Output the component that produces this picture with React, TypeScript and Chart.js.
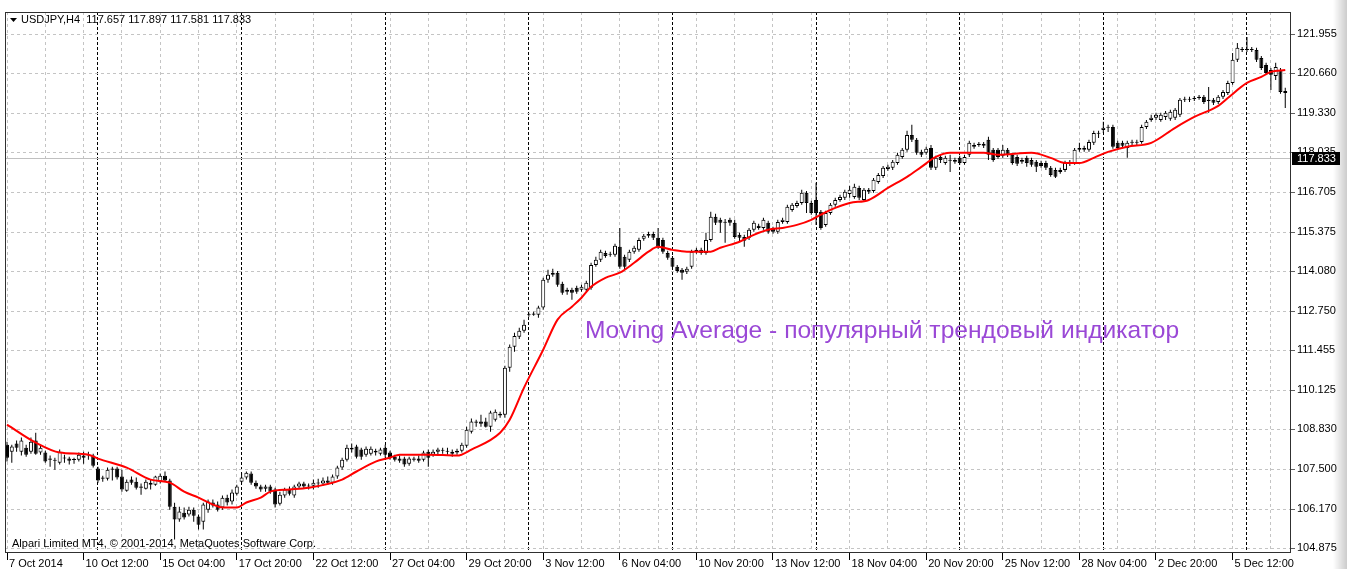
import React, { useEffect, useRef } from 'react';
import { Chart, registerables } from 'chart.js';

Chart.register(...registerables);

// ---- header / current quote ----
const symbolTitle = 'USDJPY,H4';
const headerOHLC = ['117.657', '117.897', '117.581', '117.833'];
const currentPrice = 117.833;
const overlayText = 'Moving Average - популярный трендовый индикатор';
const copyrightText = 'Alpari Limited MT4, © 2001-2014, MetaQuotes Software Corp.';

// ---- H4 candles (bar index 0 = 7 Oct 2014 20:00) ----
const opens = [
  108.31,108.08,108.35,108.08,108.21,108.08,108.45,108.05,108.05,107.85,
  107.81,107.71,107.85,107.85,107.81,107.81,107.95,107.98,107.95,107.52,
  107.22,107.18,107.48,107.52,107.25,106.78,107.15,107.08,106.92,106.85,
  107.05,106.98,107.08,107.28,107.12,106.25,105.82,106.05,105.99,106.15,
  105.92,105.75,106.15,106.39,106.32,106.22,106.55,106.42,106.68,107.08,
  107.22,107.35,107.05,106.92,106.85,106.92,106.82,106.35,106.62,106.82,
  106.62,106.92,107.02,106.92,106.95,107.05,107.02,107.12,107.05,107.25,
  107.55,107.81,108.21,108.25,108.15,107.98,108.01,108.11,108.01,108.21,
  108.05,107.91,107.85,107.85,107.68,107.85,107.85,107.81,108.08,107.98,
  108.08,108.11,108.11,108.08,108.05,108.11,108.28,108.74,109.08,109.08,
  109.08,108.91,109.14,109.34,109.31,110.87,111.57,111.90,112.10,112.63,
  112.63,112.63,112.87,113.80,113.96,114.03,113.66,113.40,113.46,113.53,
  113.46,113.46,113.53,114.29,114.46,114.69,114.66,114.63,114.89,114.56,
  114.46,114.73,114.79,115.16,115.26,115.32,115.19,115.12,114.69,114.53,
  114.23,114.13,114.06,114.23,114.73,114.79,114.69,115.12,115.89,115.79,
  115.72,115.79,115.69,115.29,115.22,115.19,115.46,115.59,115.52,115.69,
  115.49,115.39,115.72,115.72,116.12,116.25,116.35,116.69,116.35,116.45,
  116.06,115.62,116.02,116.29,116.45,116.52,116.65,116.55,116.85,116.45,
  116.79,116.75,117.05,117.25,117.48,117.52,117.68,117.88,118.12,118.61,
  118.45,118.05,118.02,118.18,117.52,117.88,117.68,117.78,117.78,117.85,
  117.68,117.95,118.28,118.32,118.32,118.45,118.12,118.12,117.92,118.12,
  117.95,117.88,117.78,117.85,117.78,117.72,117.68,117.68,117.52,117.45,
  117.45,117.45,117.65,117.68,118.12,118.18,118.12,118.35,118.65,118.78,
  118.85,118.88,118.35,118.35,118.18,118.35,118.35,118.38,118.88,119.11,
  119.18,119.11,119.21,119.15,119.18,119.28,119.78,119.78,119.81,119.84,
  119.88,119.78,119.78,119.71,119.88,120.01,120.34,121.11,121.44,121.47,
  121.44,121.44,121.17,120.94,120.77,120.57,120.77,120.07,
];
const closes = [
  107.88,108.25,108.21,108.45,107.98,108.41,108.01,108.21,107.75,107.81,
  107.78,108.08,107.88,107.78,107.80,107.98,107.88,107.95,107.61,107.12,
  107.18,107.48,107.52,107.22,106.82,107.08,107.05,106.88,106.88,107.08,
  106.98,107.25,107.28,107.12,106.25,105.82,106.09,105.89,106.15,105.95,
  105.65,106.32,106.42,106.29,106.15,106.55,106.39,106.72,106.92,107.22,
  107.38,107.05,106.92,106.82,106.92,106.75,106.32,106.65,106.82,106.68,
  106.92,107.02,106.92,106.95,107.05,107.02,107.12,107.05,107.25,107.55,
  107.81,108.21,108.15,107.91,107.91,108.18,108.18,108.05,108.15,107.98,
  107.88,107.81,107.78,107.65,107.85,107.81,107.78,108.05,107.88,108.08,
  108.15,108.12,108.08,108.01,108.11,108.31,108.81,109.08,109.04,109.01,
  108.91,109.38,109.41,109.28,110.87,111.57,111.93,112.10,112.30,112.62,
  112.67,112.87,113.80,113.96,114.03,113.63,113.36,113.46,113.36,113.40,
  113.56,113.70,114.29,114.46,114.73,114.59,114.63,114.93,114.23,114.23,
  114.73,114.86,115.12,115.26,115.32,115.19,114.89,114.73,114.53,114.23,
  114.09,114.03,114.16,114.73,114.79,114.69,115.12,115.89,115.69,115.69,
  115.69,115.69,115.22,115.19,115.09,115.46,115.69,115.52,115.79,115.39,
  115.39,115.72,115.79,116.22,116.29,116.35,116.69,116.35,116.02,116.02,
  115.52,116.02,116.29,116.45,116.55,116.72,116.79,116.89,116.52,116.79,
  116.72,117.12,117.28,117.52,117.55,117.72,117.95,118.12,118.61,118.45,
  118.02,117.95,118.15,117.52,117.85,117.78,117.85,117.75,117.72,117.68,
  117.88,118.35,118.22,118.28,118.25,117.95,117.78,117.88,118.12,117.95,
  117.68,117.65,117.72,117.68,117.62,117.55,117.58,117.52,117.28,117.22,
  117.38,117.68,117.72,118.12,118.18,118.12,118.38,118.68,118.68,118.85,
  118.88,118.22,118.18,118.25,118.35,118.38,118.38,118.88,119.05,119.18,
  119.28,119.28,119.35,119.38,119.45,119.78,119.81,119.81,119.84,119.88,
  119.71,119.74,119.68,119.88,120.04,120.34,121.11,121.51,121.47,121.44,
  121.47,121.11,120.84,120.67,120.61,120.87,120.04,120.01,
];
const highs = [
  108.41,108.31,108.45,108.55,108.31,108.55,108.71,108.28,108.11,107.95,
  107.88,108.15,107.98,107.91,107.88,108.05,108.08,108.08,108.01,107.58,
  107.28,107.55,107.58,107.58,107.48,107.15,107.25,107.22,107.02,107.15,
  107.15,107.28,107.35,107.42,107.18,106.38,106.25,106.22,106.25,106.22,
  105.99,106.38,106.49,106.49,106.42,106.62,106.65,106.82,106.98,107.38,
  107.42,107.42,107.12,106.98,106.98,106.98,106.88,106.75,106.88,106.92,
  106.98,107.08,107.08,107.02,107.15,107.18,107.22,107.25,107.32,107.61,
  107.88,108.31,108.35,108.31,108.21,108.25,108.25,108.18,108.21,108.31,
  108.11,107.98,107.95,107.91,107.91,107.91,107.95,108.11,108.15,108.15,
  108.21,108.21,108.21,108.15,108.18,108.38,108.91,109.18,109.14,109.31,
  109.21,109.44,109.48,109.41,110.94,111.64,112.03,112.20,112.47,112.70,
  112.73,112.93,113.86,114.13,114.16,114.09,113.73,113.53,113.53,113.60,
  113.63,113.76,114.36,114.56,114.79,114.76,114.73,114.99,115.52,114.63,
  114.79,114.93,115.19,115.32,115.39,115.39,115.52,115.19,114.76,114.59,
  114.29,114.19,114.23,114.79,114.86,114.86,115.36,116.06,115.99,115.86,
  115.82,115.86,115.79,115.36,115.29,115.52,115.76,115.66,115.86,115.76,
  115.56,115.79,115.86,116.29,116.35,116.42,116.79,116.75,116.42,117.02,
  116.12,116.09,116.35,116.52,116.62,116.79,116.92,116.99,116.92,116.85,
  116.85,117.18,117.35,117.58,117.62,117.78,118.02,118.18,118.75,118.95,
  118.51,118.12,118.22,118.28,117.92,117.95,117.92,117.95,117.85,117.92,
  117.95,118.42,118.35,118.38,118.38,118.55,118.18,118.18,118.28,118.18,
  118.02,117.95,117.85,117.92,117.85,117.78,117.75,117.75,117.58,117.52,
  117.52,117.75,117.78,118.18,118.35,118.25,118.45,118.75,118.75,119.05,
  118.95,118.95,118.42,118.42,118.42,118.45,118.45,118.95,119.11,119.28,
  119.35,119.35,119.41,119.45,119.51,119.84,119.88,119.88,119.91,119.94,
  119.94,120.21,119.84,119.94,120.11,120.41,121.34,121.67,121.54,121.87,
  121.54,121.51,121.24,121.01,120.84,121.01,120.84,120.18,
];
const lows = [
  107.75,107.71,108.08,107.95,107.91,108.01,107.98,107.98,107.71,107.58,
  107.48,107.65,107.71,107.65,107.68,107.75,107.68,107.81,107.55,107.05,
  107.08,107.12,107.12,107.15,106.75,106.75,106.98,106.82,106.65,106.82,
  106.82,106.95,107.02,107.08,106.15,105.16,105.75,105.82,105.92,105.75,
  105.49,105.49,106.05,106.22,106.09,106.15,106.29,106.32,106.62,107.02,
  107.15,106.98,106.85,106.75,106.75,106.68,106.22,106.29,106.55,106.62,
  106.55,106.85,106.85,106.82,106.82,106.88,106.95,106.98,106.98,107.18,
  107.48,107.75,108.05,107.85,107.81,107.91,107.95,107.95,107.95,107.88,
  107.81,107.75,107.71,107.58,107.61,107.75,107.71,107.75,107.58,107.91,
  107.98,108.01,107.98,107.91,107.98,108.05,108.21,108.68,108.91,108.91,
  108.88,108.74,109.08,109.21,109.21,110.74,111.40,111.83,112.03,112.57,
  112.60,112.53,112.80,113.70,113.90,113.56,113.30,113.30,113.13,113.33,
  113.40,113.40,113.46,114.23,114.39,114.53,114.56,114.56,114.16,114.13,
  114.39,114.66,114.73,115.09,115.19,115.12,114.83,114.66,114.46,114.16,
  114.03,113.80,113.99,114.16,114.66,114.63,114.63,115.06,115.62,115.36,
  115.03,115.59,115.16,115.06,114.89,115.12,115.39,115.46,115.46,115.33,
  115.33,115.33,115.66,115.66,116.06,116.19,116.29,116.02,115.96,115.62,
  115.46,115.56,115.96,116.22,116.39,116.45,116.52,116.49,116.45,116.39,
  116.65,116.69,116.99,117.18,117.42,117.45,117.62,117.82,118.05,118.38,
  117.95,117.88,117.95,117.45,117.45,117.68,117.62,117.38,117.65,117.62,
  117.62,117.88,118.15,118.22,118.18,117.78,117.72,117.82,117.85,117.88,
  117.62,117.58,117.65,117.55,117.55,117.38,117.52,117.45,117.22,117.18,
  117.32,117.38,117.58,117.62,118.05,118.05,118.05,118.28,118.51,118.68,
  118.71,118.15,118.12,118.18,117.85,118.28,118.28,118.32,118.81,119.05,
  119.11,119.05,119.11,119.08,119.11,119.21,119.71,119.71,119.74,119.78,
  119.64,119.35,119.61,119.64,119.81,119.94,120.28,121.04,121.37,121.37,
  121.37,121.04,120.77,120.61,120.11,120.44,119.98,119.51,
];

// ---- Moving Average ----
const maIndex = [
  0,6,11,17,19,25,30,34,37,40,43,45,48,50,53,55,59,63,70,73,
  77,80,82,88,94,97,103,105,108,112,115,118,120,122,125,128,131,134,136,139,
  142,147,149,153,156,159,162,165,168,170,172,176,180,184,188,191,194,197,204,207,
  214,218,221,224,227,230,234,239,244,248,253,255,259,262,264,267,
];
const maValues = [
  108.98,108.38,108.05,107.98,107.85,107.55,107.15,107.05,106.75,106.55,
  106.32,106.22,106.22,106.39,106.55,106.75,106.82,106.88,107.15,107.42,
  107.75,107.88,107.98,107.98,107.95,108.15,108.71,109.14,110.21,111.47,
  112.47,112.90,113.20,113.56,113.86,114.03,114.36,114.73,114.89,114.79,
  114.73,114.73,114.86,115.06,115.29,115.46,115.52,115.62,115.79,115.96,
  116.12,116.35,116.45,116.85,117.22,117.55,117.88,118.02,118.02,117.95,
  118.02,117.85,117.68,117.68,117.85,118.05,118.22,118.35,118.85,119.21,
  119.58,119.84,120.34,120.54,120.71,120.77,
];

// ---- axes ----
const yTickValues = [104.875, 106.170, 107.500, 108.830, 110.125, 111.455, 112.750, 114.080, 115.375, 116.705, 118.035, 119.330, 120.660, 121.955];
const xLabels = ['7 Oct 2014', '10 Oct 12:00', '15 Oct 04:00', '17 Oct 20:00', '22 Oct 12:00', '27 Oct 04:00', '29 Oct 20:00', '3 Nov 12:00', '6 Nov 04:00', '10 Nov 20:00', '13 Nov 12:00', '18 Nov 04:00', '20 Nov 20:00', '25 Nov 12:00', '28 Nov 04:00', '2 Dec 20:00', '5 Dec 12:00'];
const barsPerLabel = 16;
const barsPerGrid = 8;
const weekStarts = [19, 49, 79, 109, 139, 169, 199, 229, 259];

const X_MIN = -0.42;
const X_MAX = 268.2;
const Y_MIN = 104.71;
const Y_MAX = 122.70;

const FONT = '"Liberation Sans", Arial, sans-serif';

export default function App() {
  const ref = useRef<HTMLCanvasElement | null>(null);

  useEffect(() => {
    const canvas = ref.current;
    if (!canvas) return;

    const wickData = highs.map((h, i) => ({ x: i, y: [lows[i], h] }));
    const bodyData = opens.map((o, i) => ({ x: i, y: [o, closes[i]] }));
    const maData = maIndex.map((x, i) => ({ x, y: maValues[i] }));
    const gridTicks: number[] = [];
    for (let v = 0; v <= X_MAX; v += barsPerGrid) gridTicks.push(v);

    const overlay = {
      id: 'mtOverlay',
      beforeDatasetsDraw(chart: any) {
        const { ctx, chartArea: a, scales } = chart;
        const y = Math.round(scales.y.getPixelForValue(currentPrice)) + 0.5;
        ctx.save();
        ctx.strokeStyle = '#c0c0c0';
        ctx.lineWidth = 1;
        ctx.beginPath();
        ctx.moveTo(a.left, y);
        ctx.lineTo(a.right, y);
        ctx.stroke();
        ctx.restore();
      },
      afterDraw(chart: any) {
        const { ctx, chartArea: a, scales } = chart;
        ctx.save();
        // frame
        ctx.strokeStyle = '#303030';
        ctx.lineWidth = 1;
        ctx.strokeRect(a.left + 0.5, a.top + 0.5, a.right - a.left - 1, a.bottom - a.top - 1);
        // header
        ctx.fillStyle = '#000';
        ctx.beginPath();
        ctx.moveTo(a.left + 5, a.top + 6);
        ctx.lineTo(a.left + 12, a.top + 6);
        ctx.lineTo(a.left + 8.5, a.top + 10);
        ctx.closePath();
        ctx.fill();
        ctx.font = '11px ' + FONT;
        ctx.textBaseline = 'middle';
        ctx.textAlign = 'left';
        ctx.fillText(symbolTitle + '  ' + headerOHLC.join(' '), a.left + 16, a.top + 8);
        // copyright
        ctx.fillText(copyrightText, a.left + 7, a.bottom - 9);
        // purple caption
        ctx.font = '24.6px ' + FONT;
        ctx.fillStyle = '#9a48d6';
        ctx.fillText(overlayText, 585, 331);
        // current price box
        const py = scales.y.getPixelForValue(currentPrice);
        ctx.fillStyle = '#000';
        ctx.fillRect(a.right + 1, Math.round(py) - 6, 48, 13);
        ctx.fillStyle = '#fff';
        ctx.font = '11px ' + FONT;
        ctx.fillText(currentPrice.toFixed(3), a.right + 6, Math.round(py) + 0.5);
        ctx.restore();
      },
    };

    const chart = new Chart(canvas, {
      type: 'bar',
      data: {
        datasets: [
          {
            type: 'line',
            label: 'MA',
            data: maData,
            borderColor: '#ff0000',
            borderWidth: 2,
            pointRadius: 0,
            cubicInterpolationMode: 'monotone',
            fill: false,
            order: 0,
            xAxisID: 'x',
            yAxisID: 'y',
          } as any,
          {
            type: 'bar',
            label: 'body',
            data: bodyData,
            backgroundColor: (c: any) => (closes[c.dataIndex] >= opens[c.dataIndex] ? '#ffffff' : '#000000'),
            borderColor: '#000',
            borderWidth: 1,
            borderSkipped: false,
            barThickness: 4,
            minBarLength: 1,
            inflateAmount: 0,
            grouped: false,
            order: 1,
            xAxisID: 'x',
            yAxisID: 'y',
          } as any,
          {
            type: 'bar',
            label: 'wick',
            data: wickData,
            backgroundColor: '#000',
            borderWidth: 0,
            barThickness: 1,
            inflateAmount: 0,
            grouped: false,
            order: 2,
            xAxisID: 'x',
            yAxisID: 'y',
          } as any,
        ],
      },
      options: {
        animation: false,
        responsive: true,
        maintainAspectRatio: false,
        events: [],
        layout: { padding: { left: 5, top: 12, right: 0, bottom: 0 } },
        plugins: { legend: { display: false }, tooltip: { enabled: false }, title: { display: false } },
        scales: {
          x: {
            type: 'linear',
            position: 'bottom',
            min: X_MIN,
            max: X_MAX,
            offset: false,
            afterBuildTicks: (s: any) => {
              s.ticks = gridTicks.map((v) => ({ value: v }));
            },
            afterFit: (s: any) => {
              s.height = 16;
            },
            ticks: {
              autoSkip: false,
              maxRotation: 0,
              minRotation: 0,
              align: 'start',
              labelOffset: 2,
              padding: -3,
              color: '#000',
              font: { family: FONT, size: 11 },
              callback: (v: any) => (v % barsPerLabel === 0 ? xLabels[v / barsPerLabel] || '' : ''),
            },
            grid: {
              offset: false,
              color: '#c4c4c4',
              lineWidth: 1,
              drawTicks: true,
              tickLength: 7,
              tickWidth: 1,
              tickBorderDash: [],
              tickColor: (c: any) => (c.tick && c.tick.value % barsPerLabel === 0 ? '#000' : 'rgba(0,0,0,0)'),
            },
            border: { display: false, dash: [3, 3] },
          },
          xw: {
            type: 'linear',
            position: 'bottom',
            min: X_MIN,
            max: X_MAX,
            offset: false,
            afterBuildTicks: (s: any) => {
              s.ticks = weekStarts.map((v) => ({ value: v }));
            },
            afterFit: (s: any) => {
              s.height = 0;
            },
            ticks: { display: false },
            grid: { offset: false, color: '#000000', lineWidth: 1, drawTicks: false },
            border: { display: false, dash: [3, 2] },
          },
          y: {
            type: 'linear',
            position: 'right',
            min: Y_MIN,
            max: Y_MAX,
            beginAtZero: false,
            afterBuildTicks: (s: any) => {
              s.ticks = yTickValues.map((v) => ({ value: v }));
            },
            afterFit: (s: any) => {
              s.width = 56;
            },
            ticks: {
              autoSkip: false,
              padding: 2,
              color: '#000',
              font: { family: FONT, size: 11 },
              callback: (v: any) => Number(v).toFixed(3),
            },
            grid: {
              color: '#c4c4c4',
              lineWidth: 1,
              drawTicks: true,
              tickLength: 4,
              tickBorderDash: [],
              tickColor: '#606060',
            },
            border: { display: false, dash: [3, 3] },
          },
        },
      } as any,
      plugins: [overlay],
    });

    return () => chart.destroy();
  }, []);

  return (
    <div style={{ position: 'fixed', left: 0, top: 0, width: 1347, height: 569, background: '#fff', overflow: 'hidden' }}>
      <canvas ref={ref} />
      <div
        style={{
          position: 'absolute',
          left: 1333,
          top: 0,
          width: 14,
          height: 569,
          background: 'linear-gradient(to right, rgba(0,0,0,0), rgba(0,0,0,0.2))',
          pointerEvents: 'none',
        }}
      />
    </div>
  );
}
